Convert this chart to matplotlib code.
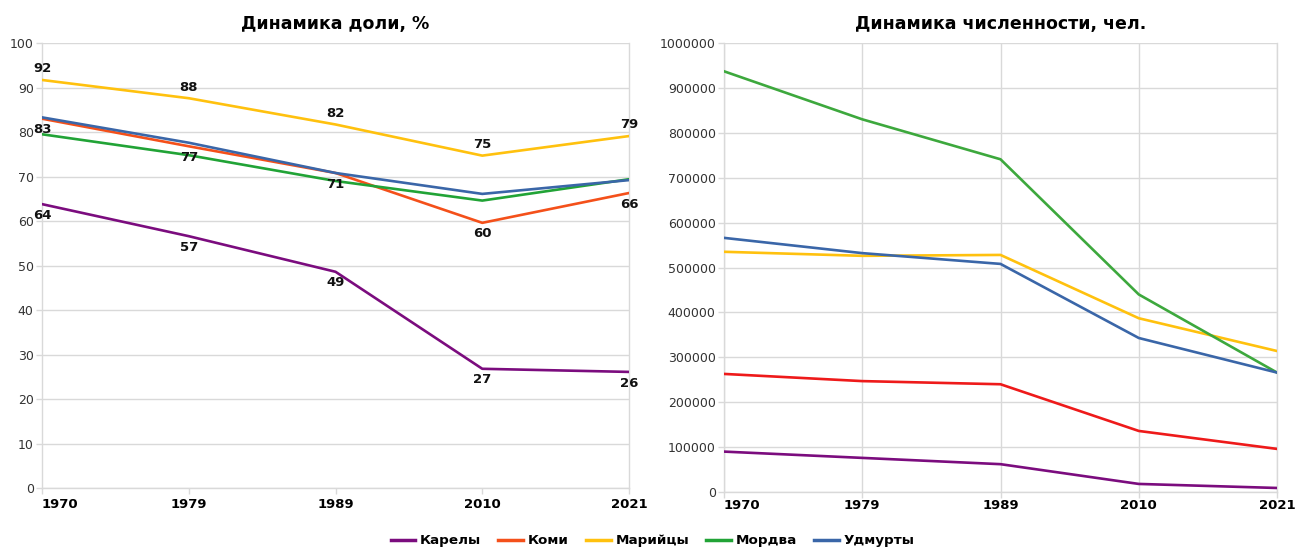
import matplotlib
matplotlib.use("Agg")
import matplotlib.pyplot as plt
from matplotlib.lines import Line2D

plt.rcParams['font.family'] = ['DejaVu Sans']

years = ["1970", "1979", "1989", "2010", "2021"]
peoples = ["Карелы", "Коми", "Марийцы", "Мордва", "Удмурты"]

# Share of the titular people, %
share_karely = [63.8, 56.6, 48.6, 26.8, 26.1]
share_komi = [83.0, 76.8, 70.8, 59.6, 66.3]
share_mari = [91.7, 87.6, 81.7, 74.7, 79.1]
share_mordva = [79.5, 74.8, 69.0, 64.6, 69.4]
share_udmurt = [83.3, 77.6, 70.8, 66.1, 69.2]

# Population, persons
pop_karely = [90000, 76000, 62000, 18000, 9000]
pop_komi = [263000, 247000, 240000, 136000, 96000]
pop_mari = [535000, 526000, 528000, 387000, 314000]
pop_mordva = [937000, 830000, 741000, 440000, 266000]
pop_udmurt = [566000, 532000, 508000, 343000, 266000]

share_colors = ["#7B0C7E", "#F4501A", "#FFC10E", "#21A336", "#3A66A8"]
pop_colors = ["#7B0C7E", "#EE1A1A", "#FFC10E", "#3DA83D", "#3A66A8"]

# Which series carry value labels, and whether above (+) or below (-)
labelled = {"Карелы": -1, "Коми": -1, "Марийцы": +1}

shares = [share_karely, share_komi, share_mari, share_mordva, share_udmurt]
pops = [pop_karely, pop_komi, pop_mari, pop_mordva, pop_udmurt]

fig = plt.figure(figsize=(12.97, 5.49), dpi=100)
ax1 = fig.add_axes([0.0324, 0.111, 0.4526, 0.8106])
ax2 = fig.add_axes([0.5582, 0.1038, 0.4264, 0.8179])

x = list(range(len(years)))
grid_c = "#d9d9d9"
tick_c = "#333333"

for ax in (ax1, ax2):
    ax.set_xlim(0, len(years) - 1)
    for s in ax.spines.values():
        s.set_color(grid_c)
        s.set_linewidth(1.0)
    ax.spines['top'].set_visible(False)
    ax.tick_params(axis='both', color=grid_c, length=4, width=1)
    ax.tick_params(axis='y', labelsize=9, labelcolor=tick_c, pad=2)
    ax.tick_params(axis='x', labelsize=9.5, pad=3)
    ax.set_xticks(x)
    ax.set_xticklabels(years, fontweight='bold')
    ax.set_axisbelow(True)
ax2.tick_params(axis='x', pad=1)

# Left: share
for name, vals, c in zip(peoples, shares, share_colors):
    ax1.plot(x, vals, color=c, lw=1.9, solid_joinstyle='round', zorder=3)
    if name in labelled:
        d = labelled[name]
        for xi, v in zip(x, vals):
            ax1.annotate(f"{round(v):d}", (xi, v), xytext=(0, 8 * d),
                         textcoords='offset points', ha='center', va='center',
                         fontsize=9.5, fontweight='bold', color='#111111', zorder=4)
ax1.set_ylim(0, 100)
ax1.set_yticks(range(0, 101, 10))
ax1.yaxis.grid(True, color=grid_c, lw=1.0)
ax1.set_title("Динамика доли, %", fontsize=12.5, fontweight='bold', pad=10)

# Right: population
for name, vals, c in zip(peoples, pops, pop_colors):
    ax2.plot(x, vals, color=c, lw=1.9, solid_joinstyle='round', zorder=3)
ax2.set_ylim(0, 1000000)
ax2.set_yticks(range(0, 1000001, 100000))
ax2.set_yticklabels([str(v) for v in range(0, 1000001, 100000)])
ax2.grid(True, color=grid_c, lw=1.0)
ax2.set_title("Динамика численности, чел.", fontsize=12.5, fontweight='bold', pad=10)

# Keep first year label clear of the y-axis labels
for ax in (ax1, ax2):
    lbls = ax.get_xticklabels()
    lbls[0].set_horizontalalignment('left')

handles = [Line2D([0], [0], color=c, lw=2.5) for c in share_colors]
fig.legend(handles, peoples, loc='center', bbox_to_anchor=(0.503, 0.015),
           ncol=5, frameon=False, handlelength=1.85, handletextpad=0.35,
           columnspacing=1.25, prop={'size': 9.7, 'weight': 'bold'})

fig.savefig("out.png", dpi=100)
